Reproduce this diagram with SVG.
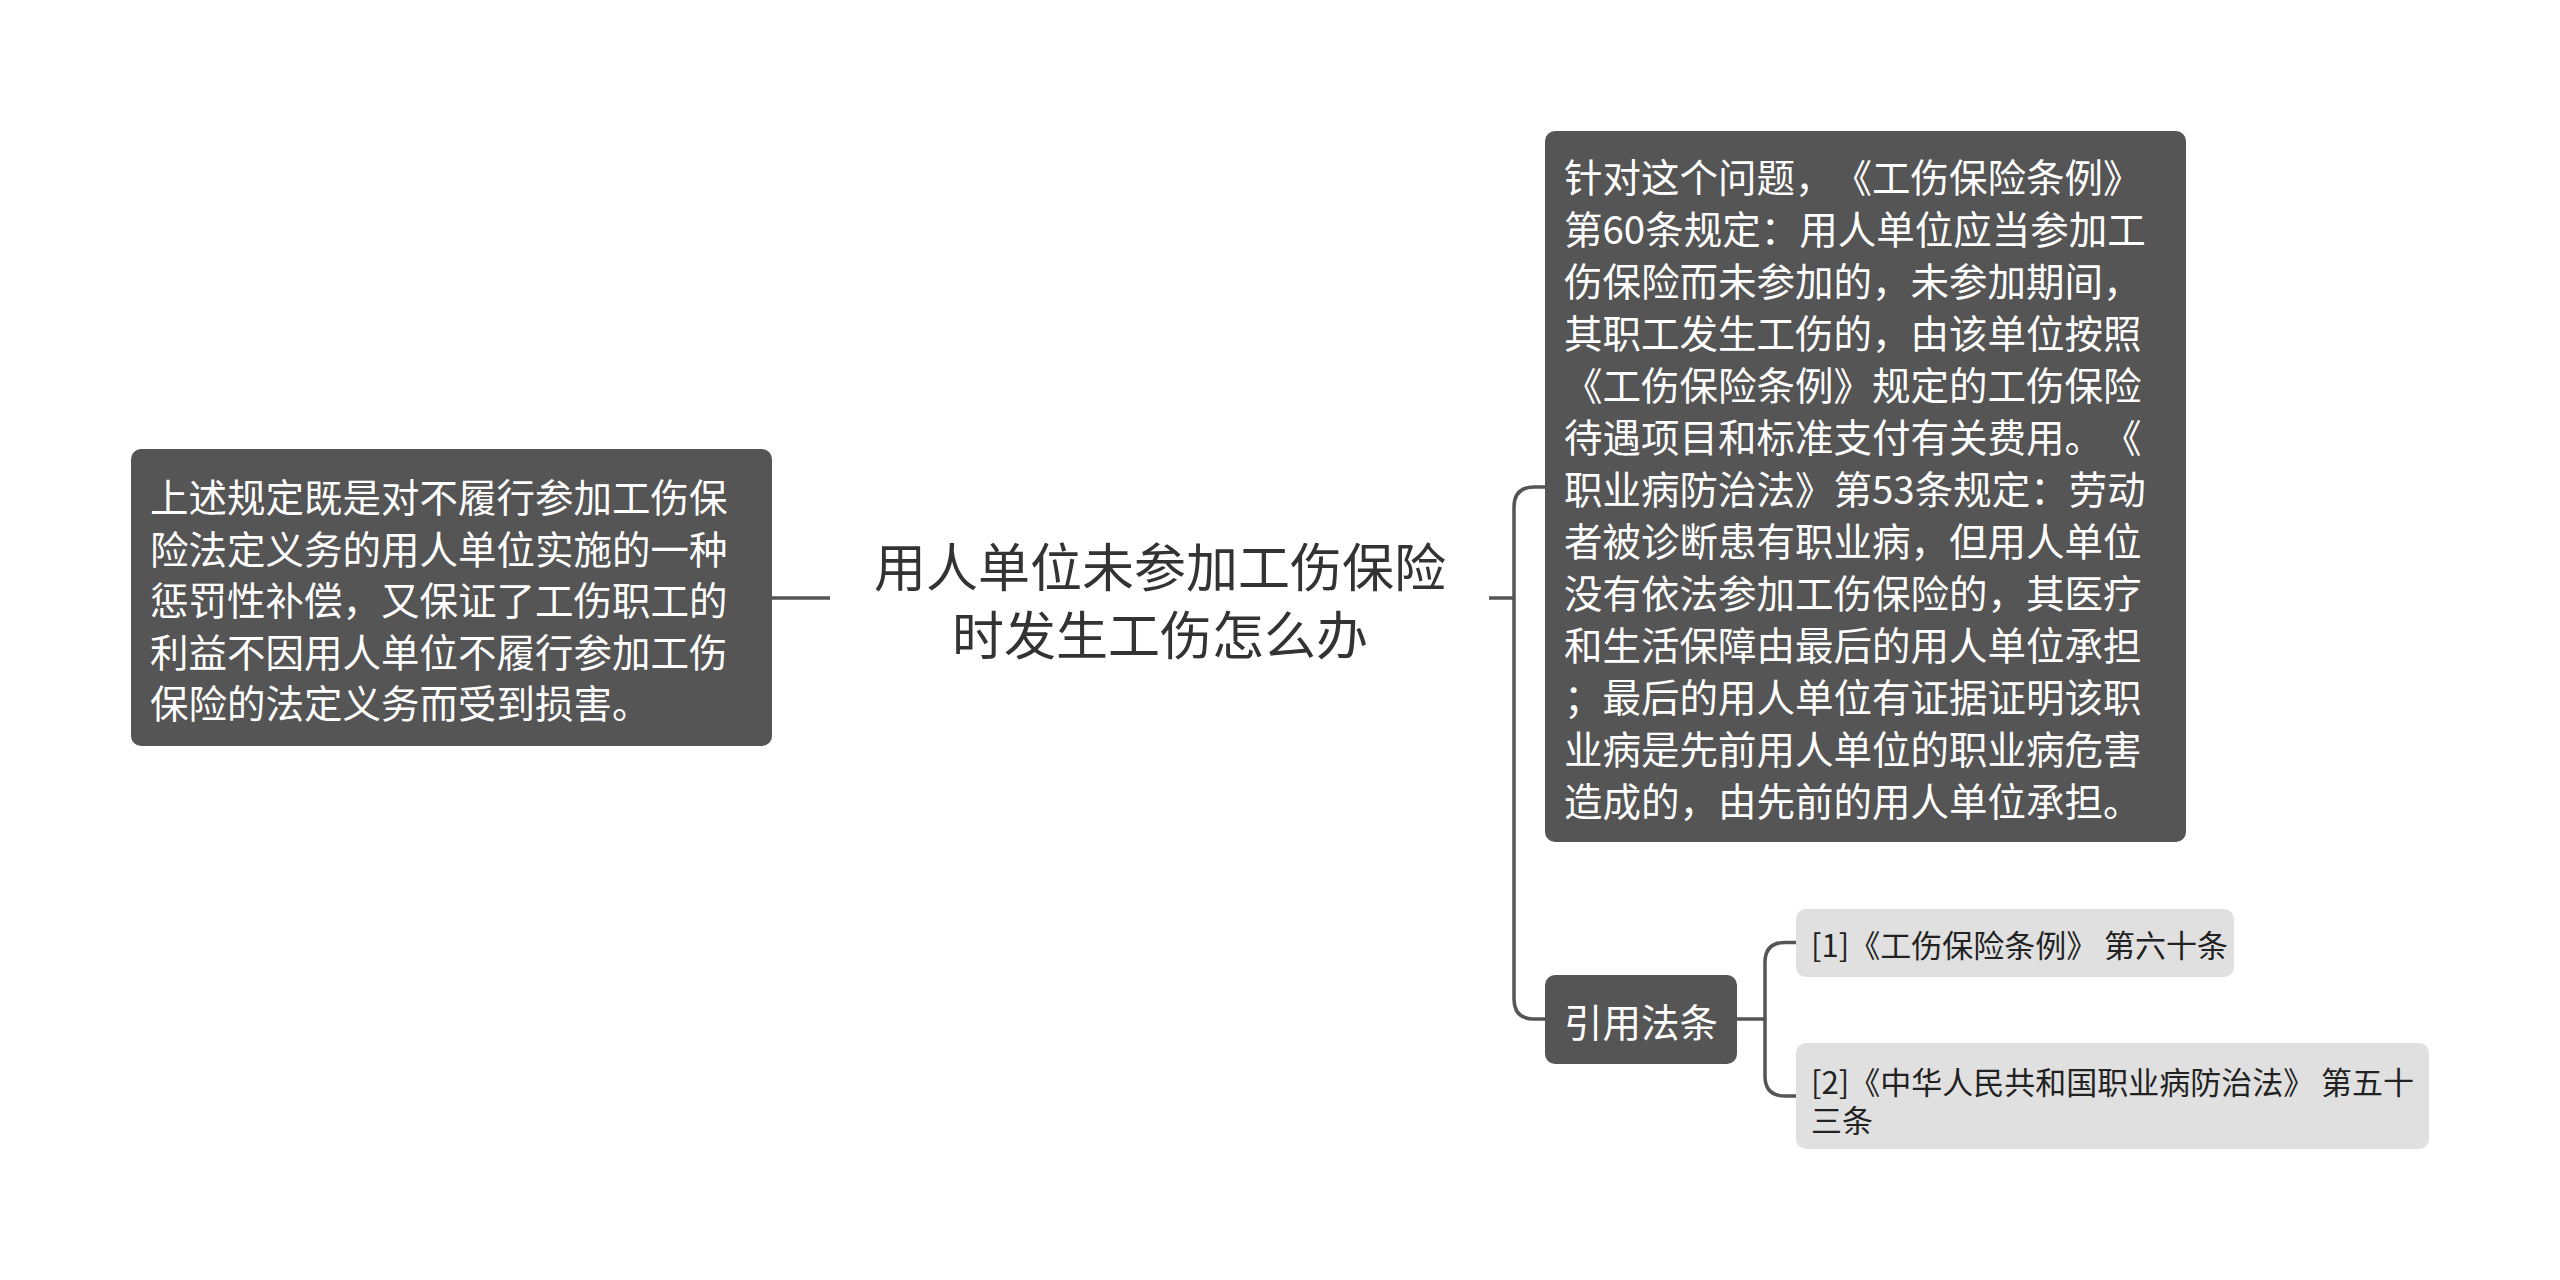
<svg xmlns="http://www.w3.org/2000/svg" width="2560" height="1280" viewBox="0 0 2560 1280">
<style>
.t{font-family:"Noto Sans CJK SC","Noto Sans",sans-serif;dominant-baseline:central;text-spacing-trim:space-all}
.dark{fill:#555555}
.lt{fill:#e0e0e0}
.wt{fill:#ffffff;font-size:38.5px}
.ct{fill:#333333;font-size:52px}
.st{fill:#222222;font-size:31px}
.ln{fill:none;stroke:#555555;stroke-width:3.5}
</style>
<rect width="2560" height="1280" fill="#ffffff"/>
<g id="connectors">
<path class="ln" d="M772 598 H830"/>
<path class="ln" d="M1489 598 H1514"/>
<path class="ln" d="M1545 487 H1534 Q1514 487 1514 507 V999 Q1514 1019 1534 1019 H1545"/>
<path class="ln" d="M1737 1019 H1765"/>
<path class="ln" d="M1796 942.5 H1785 Q1765 942.5 1765 962.5 V1076 Q1765 1096 1785 1096 H1796"/>
</g>
<g id="center">
<text class="t ct" text-anchor="middle"><tspan x="1160" y="564">用人单位未参加工伤保险</tspan><tspan x="1160" y="632">时发生工伤怎么办</tspan></text>
</g>
<g id="left-node">
<rect class="dark" x="131" y="449" width="641" height="297" rx="10"/>
<text class="t wt"><tspan x="150" y="495">上述规定既是对不履行参加工伤保</tspan><tspan x="150" y="546.5">险法定义务的用人单位实施的一种</tspan><tspan x="150" y="598">惩罚性补偿，又保证了工伤职工的</tspan><tspan x="150" y="649.5">利益不因用人单位不履行参加工伤</tspan><tspan x="150" y="701">保险的法定义务而受到损害。</tspan></text>
</g>
<g id="right-node">
<rect class="dark" x="1545" y="131" width="641" height="711" rx="10"/>
<text class="t wt"><tspan x="1564" y="174.5">针对这个问题，《工伤保险条例》</tspan><tspan x="1564" y="226.5">第60条规定：用人单位应当参加工</tspan><tspan x="1564" y="278.5">伤保险而未参加的，未参加期间，</tspan><tspan x="1564" y="330.5">其职工发生工伤的，由该单位按照</tspan><tspan x="1564" y="382.5">《工伤保险条例》规定的工伤保险</tspan><tspan x="1564" y="434.5">待遇项目和标准支付有关费用。《</tspan><tspan x="1564" y="486.5">职业病防治法》第53条规定：劳动</tspan><tspan x="1564" y="538.5">者被诊断患有职业病，但用人单位</tspan><tspan x="1564" y="590.5">没有依法参加工伤保险的，其医疗</tspan><tspan x="1564" y="642.5">和生活保障由最后的用人单位承担</tspan><tspan x="1564" y="694.5">；最后的用人单位有证据证明该职</tspan><tspan x="1564" y="746.5">业病是先前用人单位的职业病危害</tspan><tspan x="1564" y="798.5">造成的，由先前的用人单位承担。</tspan></text>
</g>
<g id="cite-node">
<rect class="dark" x="1545" y="975" width="192" height="89" rx="10"/>
<text class="t wt" x="1641" y="1019.5" text-anchor="middle">引用法条</text>
</g>
<g id="cite-1">
<rect class="lt" x="1796" y="909" width="438" height="68" rx="10"/>
<text class="t st" x="1811" y="943">[1]《工伤保险条例》 第六十条</text>
</g>
<g id="cite-2">
<rect class="lt" x="1796" y="1043" width="633" height="106" rx="10"/>
<text class="t st"><tspan x="1811" y="1080">[2]《中华人民共和国职业病防治法》 第五十</tspan><tspan x="1811" y="1118">三条</tspan></text>
</g>
</svg>
